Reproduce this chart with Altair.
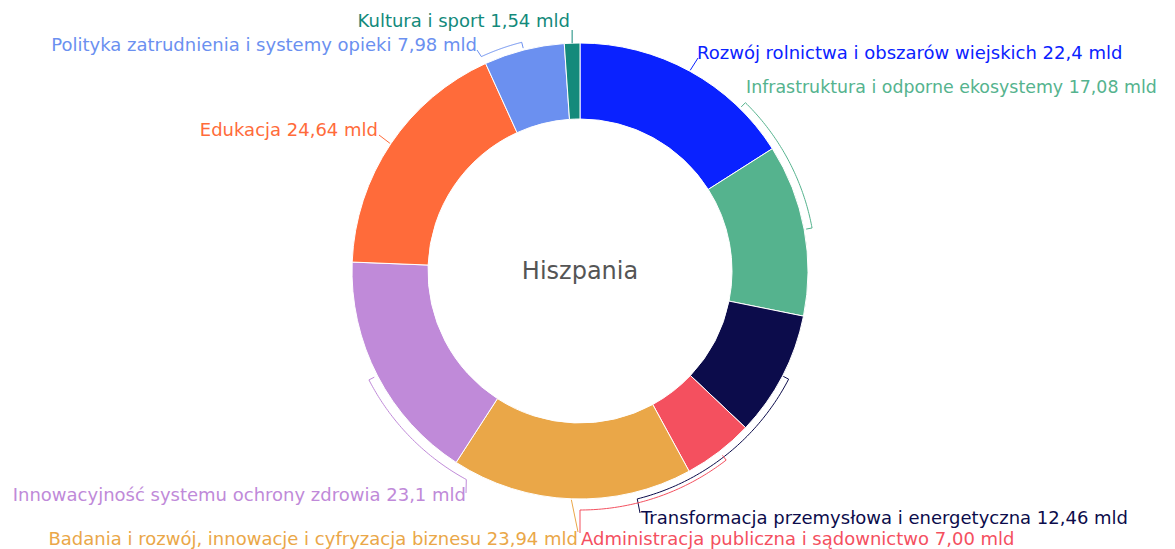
import altair as alt
import pandas as pd
import numpy as np

# ---------------- data ----------------
categories = [
    "Rozwój rolnictwa i obszarów wiejskich",
    "Infrastruktura i odporne ekosystemy",
    "Transformacja przemysłowa i energetyczna",
    "Administracja publiczna i sądownictwo",
    "Badania i rozwój, innowacje i cyfryzacja biznesu",
    "Innowacyjność systemu ochrony zdrowia",
    "Edukacja",
    "Polityka zatrudnienia i systemy opieki",
    "Kultura i sport",
]
values = [22.4, 17.08, 12.46, 7.00, 23.94, 23.1, 24.64, 7.98, 1.54]
value_texts = ["22,4", "17,08", "12,46", "7,00", "23,94", "23,1", "24,64", "7,98", "1,54"]
colors = ["#0a22ff", "#55b38e", "#0c0c4b", "#f4505f", "#eaa748",
          "#c08ad9", "#ff6b3a", "#6b90f0", "#138a7b"]
country = "Hiszpania"

# ---------------- layout ----------------
W, H = 1159, 541
CX, CY = 572, 263
R_IN, R_OUT = 152, 228
FONT = "DejaVu Sans"

# label anchor (x, y, align, font size) in chart pixels
label_pos = {
    0: (689, 46, "left", 18),
    1: (738, 80, "left", 17.4),
    2: (633, 511, "left", 18),
    3: (573, 532, "left", 18),
    4: (570, 532, "right", 18),
    5: (458, 488, "right", 18),
    6: (370, 123, "right", 18),
    7: (469, 38, "right", 18),
    8: (562, 14, "right", 18),
}

total = sum(values)
cum = np.cumsum([0] + values)
start_deg = cum[:-1] / total * 360
end_deg = cum[1:] / total * 360
mid_deg = (start_deg + end_deg) / 2


def pt(theta, r):
    t = np.radians(theta)
    return CX + r * np.sin(t), CY - r * np.cos(t)


rows = []


def add_poly(grp, idx, pts):
    for i, (x, y) in enumerate(pts):
        rows.append({"x": x, "y": y, "grp": grp, "cat": categories[idx], "i": i})


# brackets: (idx, angle_a, angle_b, radius, connector end or None)
brackets = [
    (1, 44.5, 79.5, 236, None),
    (2, 117.4, 165.9, 235, (632, 505)),
    (3, 142.3, 180.0, 239, (572, 525)),
    (5, 242.7, 208.6, 237.5, (458, 485)),
    (7, 345.7, 335.3, 236, (469, 42)),
]
for k, (idx, a, b, r, conn) in enumerate(brackets):
    pts = [pt(a, r - 6)]
    for th in np.linspace(a, b, 60):
        pts.append(pt(th, r))
    if conn is None:
        pts.append(pt(b, r - 6))
    else:
        pts.append(conn)
    add_poly(f"b{k}", idx, pts)

# straight leaders from slice middle to the label
leaders = {0: (690, 50), 6: (371, 127), 4: (570, 524)}
for idx, end in leaders.items():
    add_poly(f"l{idx}", idx, [pt(mid_deg[idx], R_OUT + 1), end])
kx, ky = pt(mid_deg[8], R_OUT)
add_poly("l8", 8, [(kx, ky), (kx, 22)])

lines_df = pd.DataFrame(rows)

df = pd.DataFrame({
    "cat": categories,
    "value": values,
    "idx": list(range(len(values))),
})

n = len(categories)
lab = pd.DataFrame({
    "cat": categories,
    "label": [f"{c} {v} mld" for c, v in zip(categories, value_texts)],
    "x": [label_pos[i][0] for i in range(n)],
    "y": [label_pos[i][1] for i in range(n)],
    "align": [label_pos[i][2] for i in range(n)],
    "fs": [label_pos[i][3] for i in range(n)],
})

cscale = alt.Scale(domain=categories, range=colors)
xs = alt.Scale(domain=[0, W], nice=False, zero=False)
ys = alt.Scale(domain=[0, H], nice=False, zero=False, reverse=True)

arcs = alt.Chart(df).mark_arc(
    innerRadius=R_IN, outerRadius=R_OUT, stroke="white", strokeWidth=1
).encode(
    theta=alt.Theta("value:Q", stack=True),
    color=alt.Color("cat:N", scale=cscale, legend=None),
    order=alt.Order("idx:Q"),
    x=alt.value(CX),
    y=alt.value(CY),
)

lines = alt.Chart(lines_df).mark_line(strokeWidth=1).encode(
    x=alt.X("x:Q", scale=xs, axis=None),
    y=alt.Y("y:Q", scale=ys, axis=None),
    detail="grp:N",
    order="i:Q",
    color=alt.Color("cat:N", scale=cscale, legend=None),
)


def text_layer(align):
    return alt.Chart(lab[lab["align"] == align]).mark_text(
        align=align, baseline="middle", font=FONT
    ).encode(
        x=alt.X("x:Q", scale=xs, axis=None),
        y=alt.Y("y:Q", scale=ys, axis=None),
        text="label:N",
        size=alt.Size("fs:Q", scale=None, legend=None),
        color=alt.Color("cat:N", scale=cscale, legend=None),
    )


center = alt.Chart(pd.DataFrame({"t": [country]})).mark_text(
    align="center", baseline="middle", font=FONT, fontSize=24, color="#555555"
).encode(
    x=alt.value(CX),
    y=alt.value(CY + 1),
    text="t:N",
)

chart = alt.layer(arcs, lines, text_layer("left"), text_layer("right"), center).properties(
    width=W, height=H, padding=0, autosize=alt.AutoSizeParams(type="none")
).configure_view(strokeWidth=0)

chart.save("out.html", embed_options={"renderer": "svg", "actions": False})
